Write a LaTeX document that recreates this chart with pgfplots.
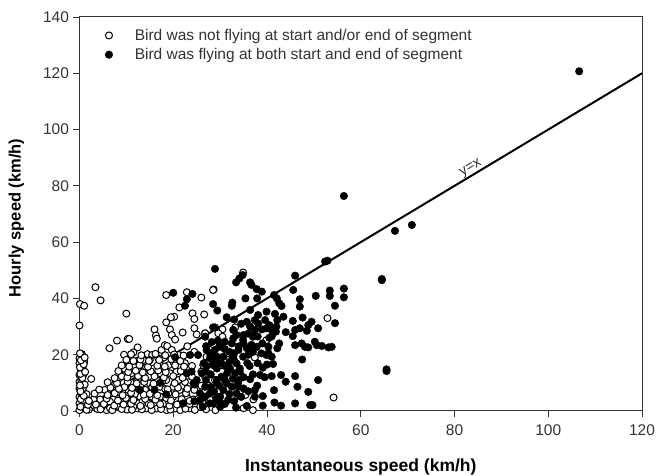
\documentclass[border=0pt]{standalone}
\usepackage{fontspec}
\setmainfont{Liberation Sans}
\usepackage{pgfplots}
\usepackage{pgfplotstable}
\pgfplotsset{compat=1.18}
\definecolor{axgray}{HTML}{333333}

% not flying at start and/or end
\pgfplotstableread{
x y
3.4 44
4.5 39.3
0.1 38
1 37.4
0 30.4
10 34.6
28.6 43.2
22.9 42.2
18.5 41.2
26 40.3
21.3 36.8
24.1 34.7
24.5 32.7
26.6 34.3
20.2 33.5
19.5 33.3
18.5 31.5
16 29
16.3 26.8
16.5 25.7
19.3 29
19.7 27
20.4 25.4
22 27.9
24.5 29.4
25 27.2
26.8 27.6
8 25
6.4 22.3
10.3 25.6
10.6 25.6
12.4 22.6
11.5 20.8
9.5 20
10.4 17.3
14.5 20.2
15.5 19.9
13.6 18.1
17.5 21.7
18.2 23.4
18.7 23.1
19.7 21.7
2.5 11.4
5.4 7.5
7.6 9.6
9.4 10
9.7 14.8
9.7 12.8
11.6 15.7
11.1 13.4
12.9 14
15 18.1
15.8 15.1
17.2 16.3
19 16.3
21.1 19.9
14.7 12.2
17.2 13.4
19.3 13.4
21.1 11
20.7 14
17.2 8.6
20 8.6
21.4 7.5
15 9.8
14 7.5
10.4 7.5
12.9 5.1
10.4 4
15.4 5.1
17.9 2.7
20 5.1
7.2 4.1
4.4 4.1
6.5 3.3
3 4.1
2.6 2
3.8 0.7
5.8 0.3
8 1.8
10.1 0.5
12.4 0.9
14.3 0.9
16.5 0.9
18.6 0.3
20.4 0.9
23.6 0.9
25.7 1.5
12.5 2.7
14.7 2.7
24.3 4.1
22.9 5.1
21.4 2.7
17.2 5.1
0 18.7
0.5 20.2
1 17.5
0 16.9
0.7 15.1
0 12.8
0.8 12.8
0 10.4
0.7 8
0 8
0 5
1.5 6
0 2.7
0.8 3.9
0 0.3
1.2 0.9
0.1 20.5
0.3 14
0.4 11
0.3 6.5
1 1.5
28.5 43
34.9 49.2
52.9 33
54.2 4.8
37 0.3
35.4 5.7
33 4.8
37.4 19
39.9 25.2
33.2 29.7
30.5 29
29.6 27.6
30.5 26.4
28.5 23.7
26.8 27.6
31.4 18.3
30.3 16.3
26.8 12.2
27.5 9.1
28.9 5.6
26.4 4.3
35 1
37.1 4.1
27.1 19.3
26.4 16.3
28.9 11
23 23
24.5 21
22.5 17
24 16
26 14
22 9
24.5 7.5
26 9
11 10
12.5 11.5
13 9
16.5 11
18.5 11
8.5 6.5
9.5 3
11.5 1.5
13.5 3.5
16 3
19 3.5
22.5 1.5
24.5 2.5
6.5 1
2 0.5
3.5 2.3
4.8 1.5
9.6 8.5
11.8 6
15.9 7
18.3 7.8
23 12.5
16.8 18.7
14.2 15.5
12.3 17.8
18 19
20 17.5
1.5 0.4
4.5 0.6
7 0.3
9 0.7
11.2 0.4
13.3 0.6
15.4 0.3
17.4 0.7
19.4 0.5
21.5 0.3
22.6 0.8
24.6 0.4
27 0.6
29 0.3
1.8 2.2
5.2 2.5
7.4 1.9
9.4 2.3
11 2.6
13 1.8
15.2 2.1
17.2 2.4
19.2 1.9
20.8 2.3
23.5 2.5
26.2 2.9
2 3.6
5.8 4.4
8.2 3.7
9.9 4.6
11.5 3.9
14 4.3
16.2 4
18.5 4.6
19.5 3.7
21.8 4.2
23.5 3.6
25.4 4.4
3.2 6.2
6 5.7
7.5 6.3
9.2 5.6
11 6.4
13.7 5.8
15 6.1
16.6 5.6
19 6.4
20.5 5.9
22.7 6.3
4.2 7.6
6.6 8.3
8.4 7.9
11.2 8.2
12.7 7.7
15.5 8.4
18.8 7.7
21 8.3
23 7.9
6 10.2
8 9.9
10.3 10.4
12.2 9.8
13.8 10.3
15.8 9.7
17.6 10.4
20.3 9.9
22.5 10.3
7.5 11.7
9 12.3
10.2 11.9
12.5 12.4
14 11.7
16 12.3
18 11.9
20 12.4
22 11.8
24 12.2
8.3 14.2
10.4 13.8
12 14.3
13.5 13.7
15.2 14.1
16.8 14.4
18.4 13.8
21.6 14.2
9 16.2
10.6 15.8
12.8 16.3
14.6 15.7
16.6 16.1
18.2 15.8
20.4 16.2
22.3 15.8
10 18.2
11.5 17.8
13 18.3
14.8 17.8
17 18.1
19.6 18.4
21.5 17.8
11 20.2
13.2 19.8
16.2 20.3
18.3 19.8
20.2 20.1
22.2 19.7
0.2 1.5
0.3 4.2
0.9 5.4
0.2 7
1.1 9.4
0.1 9.1
0.6 11.7
0.2 13.2
1.2 13.9
0.1 15.5
0.9 16.6
0.3 18
1.1 19
}\opentable

% flying at both start and end
\pgfplotstableread{
x y
106.6 120.7
70.9 66.1
67.3 64
56.4 76.4
64.5 46.9
28.9 50.5
33.4 45.7
34.1 47.1
34.8 48.3
36.4 45.7
36.7 44.8
37.8 43.3
38.9 42.4
41.5 41.2
46 48.1
45.6 43
52.4 53.1
52.9 53.4
64.5 46.5
56.4 43.5
56.4 40.4
53.4 42.8
53.4 40.9
50.4 40.9
54.5 37.4
54.5 31.2
47 39.7
47 37.1
28.5 38
29.4 35.7
32.6 38.5
32.5 37.4
35.4 40
37.9 40
42.1 40
42.6 38.3
43.1 37.3
36.4 35.9
31.4 33.3
38.1 34.1
39.9 35.3
41.7 34.5
42.2 32.3
37.4 32.3
35.7 31.7
36.4 30
37.4 28.8
38.9 29
39.9 29.4
41 28.8
42 30
41.9 28.2
38.1 31.1
39.6 32.3
45.5 32
47.6 33.2
49.5 31.7
48.8 30.5
50.9 29.4
48.5 28.5
47 29.4
46 28.8
45.5 26.6
46 23.4
47.4 24
48.1 22.8
48.8 22.6
50.2 24.6
50.6 23.4
51.7 23.1
53.1 22.6
53.8 22.8
42.6 24
42.2 22.3
40.3 20.5
41 19.3
41.3 16.7
39.1 15.4
38.5 12.8
41 12.4
43 12.8
44 10.4
46 12.4
46.5 8.6
50.9 11
48.8 6.8
47.5 18.3
41.5 7.4
37.9 9
37.4 7.4
39.1 5.3
37.4 5.1
36.4 11.3
41.6 3
43 1.9
46 2.7
49.2 2.1
49.7 2.1
39.1 1.9
35.7 1.8
33.4 1.2
65.5 14.8
65.5 14.2
32.8 28.8
32.8 25.8
32.5 24
31 24.6
30 22.8
28.9 21.7
27.8 20.5
28.5 16.9
27.8 18.7
29.3 15.1
30.7 19.3
33.9 21.7
35.7 22.3
34.9 19.3
33.5 16.9
32.8 19.3
34.2 15.1
34.2 14
33.2 13.4
30.3 12.2
29.3 11
32.5 8.6
31.4 9.8
33.9 8.6
33.5 6.2
30.7 7.4
30 5.1
27.8 6.2
26.8 5.1
28.5 2.7
30 1.5
31.7 3.9
26.8 8.6
26.1 13.4
28.5 19.3
32.1 15.1
34.9 25.2
37 26.4
28.5 29.7
26.8 26.4
37.8 22.8
40.3 22.8
39.9 19.9
20 42
24.1 41.6
22.9 39.7
22.5 37.4
28.9 29.7
20.4 19.1
22.9 13.4
24.3 9.8
24.6 9.4
12.9 7.5
16 7.5
18.5 5.9
22.1 2.7
27.8 2.7
25.7 6.3
27.1 21.7
23.6 19.9
25.3 19.9
29.3 19.3
28.5 16.3
27.1 16
26.5 17
29.3 9.8
17.2 10
23.9 14
25 11
27 23
28.2 24.5
29.5 25
31 22
32 21
33 20.5
34 23
35 24
29 18
30 17
31 16
32 17.5
33 18
31.5 13.5
32.7 11.5
34 11
35 12
33.8 10
31 11
29.8 9
28 8.5
28.7 7
30 3
32 6
31 2.5
33 3.5
34.5 5
27 11
28 13
27 14
25.8 4
24.5 3.5
26.3 1.5
29.2 4.5
35 8
36 7
36.3 16
35.8 17
37 13
38 17
38.8 20.5
37 21
36 20
39 24
40.5 26
38 26.5
41 26.5
36 27.5
35 27
33.5 27
43.5 33.5
40.5 30.5
44 28
40 16.5
39.5 12
36.7 23.5
34.5 31
33 32.5
}\filledtable

\begin{document}
\begin{tikzpicture}[x=1pt,y=1pt]
\useasboundingbox (0,0) rectangle (656,476);
\begin{axis}[
    at={(79.5pt,65pt)},
    anchor=south west,
    scale only axis,
    width=562.5pt,
    height=394pt,
    xmin=0, xmax=120,
    ymin=0, ymax=140,
    xtick={0,20,40,60,80,100,120},
    ytick={0,20,40,60,80,100,120,140},
    tick align=outside,
    tick pos=left,
    major tick length=6pt,
    tick style={axgray,line width=0.8pt},
    axis line style={axgray,line width=1pt},
    clip=false,
    /pgf/number format/assume math mode=true,
    ticklabel style={font=\fontsize{15.5}{18}\selectfont,text=axgray},
    xticklabel style={yshift=-4pt},
    yticklabel style={xshift=-1pt},
    xlabel={\textbf{Instantaneous speed (km/h)}},
    ylabel={\textbf{Hourly speed (km/h)}},
    xlabel style={font=\fontsize{17.5}{20}\selectfont,at={(axis description cs:0.5,0)},anchor=north,yshift=-44pt},
    ylabel style={font=\fontsize{16.5}{19}\selectfont,at={(axis description cs:0,0.49)},anchor=south,yshift=52pt},
    legend style={draw=none,fill=none,at={(0.04,0.98)},anchor=north west,
      font=\fontsize{15.5}{18}\selectfont,row sep=2.5pt,text=axgray,
      legend cell align=left,/tikz/every odd column/.append style={column sep=20pt}},
]
\addplot[only marks,mark=*,mark size=3.5pt,mark options={draw=black,fill=white,line width=1pt}] table {\opentable};
\addlegendentry{Bird was not flying at start and/or end of segment}
\addplot[only marks,mark=*,mark size=3.8pt,mark options={draw=black,fill=black}] table {\filledtable};
\addlegendentry{Bird was flying at both start and end of segment}
\addplot[forget plot,black,line width=2pt] coordinates {(0,0) (120,120)};
\node[rotate=31,font=\fontsize{14.5}{16}\selectfont,text=axgray,anchor=south] at (axis cs:84.5,83.5) {y=x};
\end{axis}
\end{tikzpicture}
\end{document}
